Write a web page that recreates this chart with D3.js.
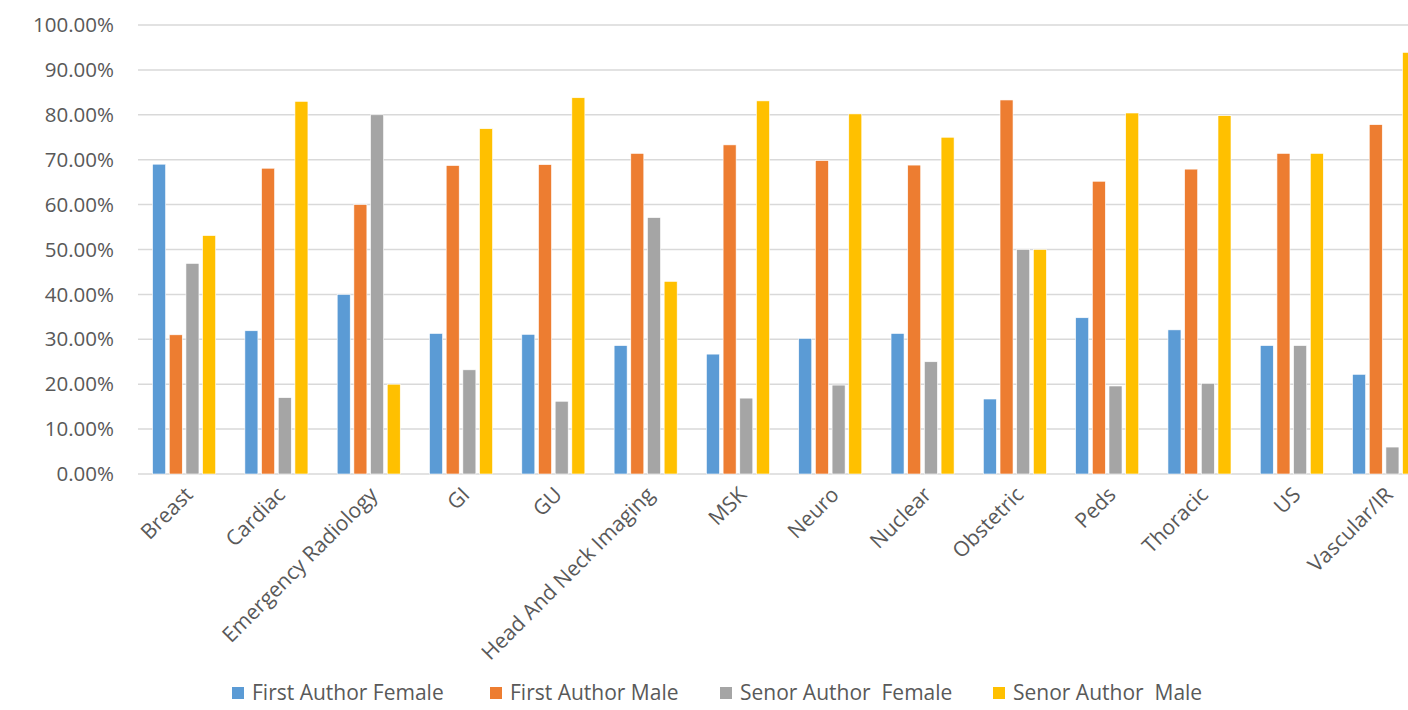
<!DOCTYPE html>
<html>
<head>
<meta charset="utf-8">
<script src="https://cdn.jsdelivr.net/npm/d3@7"></script>
<style>
  body { margin: 0; background: #fff; overflow: hidden; }
  text { font-family: "Open Sans", sans-serif; fill: #595959; }
</style>
</head>
<body>
<div id="chart"></div>
<script>
let categories = ["Breast", "Cardiac", "Emergency Radiology", "GI", "GU", "Head And Neck Imaging",
    "MSK", "Neuro", "Nuclear", "Obstetric", "Peds", "Thoracic", "US", "Vascular/IR"]
let seriesNames = ["First Author Female", "First Author Male", "Senor Author  Female", "Senor Author  Male"]
let firstFemale = [69.0, 31.9, 40.0, 31.3, 31.1, 28.6, 26.7, 30.2, 31.3, 16.7, 34.8, 32.1, 28.6, 22.2]
let firstMale = [31.0, 68.1, 60.0, 68.7, 68.9, 71.4, 73.3, 69.8, 68.8, 83.3, 65.2, 67.9, 71.4, 77.8]
let seniorFemale = [46.9, 17.0, 80.0, 23.2, 16.2, 57.1, 16.9, 19.8, 25.0, 50.0, 19.6, 20.2, 28.6, 6.0]
let seniorMale = [53.1, 83.0, 20.0, 76.9, 83.8, 42.9, 83.1, 80.2, 75.0, 50.0, 80.4, 79.8, 71.4, 93.9]
let yTicks = [0, 10, 20, 30, 40, 50, 60, 70, 80, 90, 100]
let colors = ["#5B9BD5", "#ED7D31", "#A5A5A5", "#FFC000"]

let allSeries = [firstFemale, firstMale, seniorFemale, seniorMale]

let width = 1408
let height = 710
let plotLeft = 138
let step = 92.3
let plotTop = 25
let plotBottom = 474

let svg = d3.select("#chart").append("svg").attr("width", width).attr("height", height)

let xscale = d3.scaleBand()
    .domain(categories)
    .range([plotLeft, plotLeft + step * categories.length])
    .paddingInner(0.317)
    .paddingOuter(0.158)

let subscale = d3.scaleBand()
    .domain(d3.range(seriesNames.length))
    .range([0, xscale.bandwidth()])
    .paddingInner(0.22)

let yscale = d3.scaleLinear()
    .domain([0, 100])
    .range([plotBottom, plotTop])

// gridlines
svg.append("g").selectAll("line").data(yTicks).enter().append("line")
    .attr("x1", plotLeft)
    .attr("x2", width)
    .attr("y1", d => yscale(d))
    .attr("y2", d => yscale(d))
    .style("stroke", "#d9d9d9")
    .style("stroke-width", 1.5)

// y labels
svg.append("g").selectAll("text").data(yTicks).enter().append("text")
    .attr("x", 114)
    .attr("y", d => yscale(d))
    .attr("dy", "0.35em")
    .style("text-anchor", "end")
    .style("font-size", "20.5px")
    .text(d => d.toFixed(2) + "%")

// bars
let groups = svg.append("g").selectAll("g").data(categories).enter().append("g")
    .attr("transform", d => "translate(" + xscale(d) + ",0)")

groups.selectAll("rect")
    .data((c, i) => allSeries.map((s, j) => ({ series: j, value: s[i] })))
    .enter().append("rect")
    .attr("x", d => subscale(d.series))
    .attr("width", subscale.bandwidth())
    .attr("y", d => yscale(d.value))
    .attr("height", d => yscale(0) - yscale(d.value))
    .style("fill", d => colors[d.series])
    .style("stroke", "#ffffff")
    .style("stroke-width", 0.6)

// x labels
svg.append("g").selectAll("text").data(categories).enter().append("text")
    .attr("transform", d => "translate(" + (xscale(d) + xscale.bandwidth() / 2 + 10) + "," + 496 + ") rotate(-45)")
    .style("text-anchor", "end")
    .style("font-size", "21px")
    .text(d => d)

// legend
let legendX = [232, 490, 720, 993]
let legend = svg.append("g").selectAll("g").data(seriesNames).enter().append("g")
    .attr("transform", (d, i) => "translate(" + legendX[i] + ",687)")

legend.append("rect")
    .attr("width", 12)
    .attr("height", 12)
    .style("fill", (d, i) => colors[i])

legend.append("text")
    .attr("x", 20)
    .attr("y", 6)
    .attr("dy", "0.35em")
    .style("font-size", "21px")
    .style("white-space", "pre")
    .text(d => d)
</script>
</body>
</html>
